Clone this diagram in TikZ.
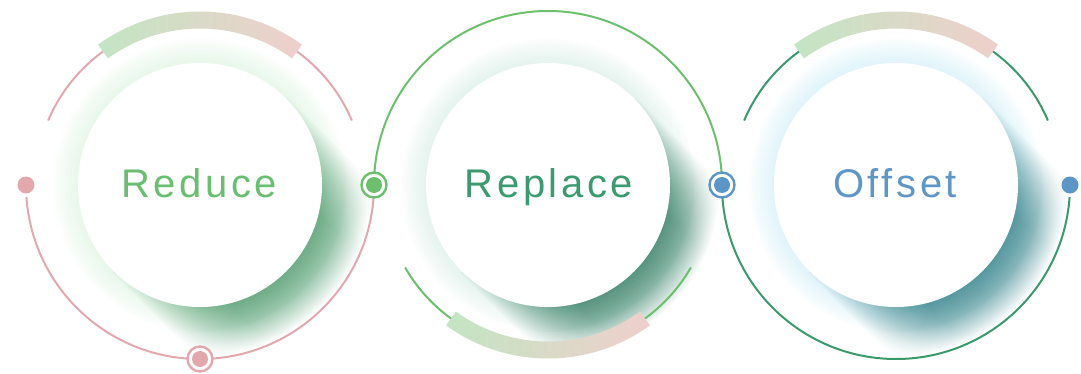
\documentclass[tikz,border=0pt]{standalone}
\usepackage{fontspec}
\setmainfont{Liberation Sans}
\usetikzlibrary{calc}
\definecolor{ringpink}{HTML}{E2A8AD}
\definecolor{ringgreen}{HTML}{6CBF6C}
\definecolor{ringdark}{HTML}{3A9A6A}
\definecolor{markblue}{HTML}{5B96C6}
\definecolor{txtone}{HTML}{6ABE72}
\definecolor{txttwo}{HTML}{3B9A6E}
\definecolor{txtthree}{HTML}{5E96C5}
\definecolor{bandg}{HTML}{C3E5C3}
\definecolor{bandp}{HTML}{EFCFCB}
\definecolor{shone}{HTML}{4E9C6E}
\definecolor{shtwo}{HTML}{2F7D62}
\definecolor{shthree}{HTML}{2F8189}
\definecolor{haone}{HTML}{CFEFD2}
\definecolor{hatwo}{HTML}{C9E6DA}
\definecolor{hathree}{HTML}{BFE8F4}
\pgfdeclareradialshading{shadeone}{\pgfpoint{0bp}{0bp}}{color(0bp)=(shone); color(17.7bp)=(shone); color(21.1bp)=(shone!75!white); color(23.5bp)=(shone!30!white); color(25bp)=(white); color(50bp)=(white)}
\pgfdeclareradialshading{shadetwo}{\pgfpoint{0bp}{0bp}}{color(0bp)=(shtwo); color(17.7bp)=(shtwo); color(21.1bp)=(shtwo!75!white); color(23.5bp)=(shtwo!30!white); color(25bp)=(white); color(50bp)=(white)}
\pgfdeclareradialshading{shadethree}{\pgfpoint{0bp}{0bp}}{color(0bp)=(shthree); color(17.7bp)=(shthree); color(21.1bp)=(shthree!75!white); color(23.5bp)=(shthree!30!white); color(25bp)=(white); color(50bp)=(white)}
\tikzset{
  ringline/.style={line width=2pt},
  whitecirc/.style={circle, fill=white, minimum size=244pt, inner sep=0pt},
  ringmark/.style={circle, draw=#1, line width=2.4pt, fill=white, minimum size=25pt, inner sep=0pt},
  dotmark/.style={circle, fill=#1, minimum size=16pt, inner sep=0pt},
  enddot/.style={circle, fill=#1, minimum size=17pt, inner sep=0pt},
  label/.style={font=\fontsize{40}{48}\selectfont\addfontfeatures{LetterSpace=9}, anchor=base, inner sep=0pt},
}
\begin{document}
\begin{tikzpicture}[x=1pt,y=1pt]
\useasboundingbox (0,0) rectangle (1081,373);
\coordinate (c1) at (200,188);
\coordinate (c2) at (548,188);
\coordinate (c3) at (896,188);
% soft halos
\foreach \c/\ha in {c1/haone, c2/hatwo, c3/hathree} {
  \foreach \k in {1,...,14}
    \fill[\ha, opacity=0.045] (\c) circle[radius=122+1.8*\k];
}
% long shadows towards the lower right, fading outwards
\foreach \c/\sh in {c1/shadeone, c2/shadetwo, c3/shadethree} {
  \foreach \w in {124,122,...,64} {
    \begin{scope}
      \clip[shift={(\c)}, rotate=-45] (0,-\w) rectangle (220,\w);
      \shade[shading=\sh, opacity=0.042] (\c) circle[radius=172];
    \end{scope}
  }
}
% white discs
\node[whitecirc] (w1) at (c1) {};
\node[whitecirc] (w2) at (c2) {};
\node[whitecirc] (w3) at (c3) {};
% rings
\draw[ringline, ringpink] ($(c1)+(184:174)$) arc[start angle=184, end angle=360, radius=174];
\draw[ringline, ringpink] ($(c1)+(23:165)$) arc[start angle=23, end angle=157, radius=165];
\draw[ringline, ringgreen] ($(c2)+(0:174)$) arc[start angle=0, end angle=180, radius=174];
\draw[ringline, ringgreen] ($(c2)+(210:165)$) arc[start angle=210, end angle=330, radius=165];
\draw[ringline, ringdark] ($(c3)+(180:174)$) arc[start angle=180, end angle=356, radius=174];
\draw[ringline, ringdark] ($(c3)+(23:165)$) arc[start angle=23, end angle=157, radius=165];
% gradient bands
\shade[left color=bandg, right color=bandp] ($(c1)+(54:156.5)$) arc[start angle=54, end angle=126, radius=156.5]
  -- ($(c1)+(126:173.5)$) arc[start angle=126, end angle=54, radius=173.5] -- cycle;
\shade[left color=bandg, right color=bandp] ($(c3)+(54:156.5)$) arc[start angle=54, end angle=126, radius=156.5]
  -- ($(c3)+(126:173.5)$) arc[start angle=126, end angle=54, radius=173.5] -- cycle;
\shade[left color=bandg, right color=bandp] ($(c2)+(234:156.5)$) arc[start angle=234, end angle=306, radius=156.5]
  -- ($(c2)+(306:173.5)$) arc[start angle=306, end angle=234, radius=173.5] -- cycle;
% markers
\node[enddot=ringpink] (d1) at ($(c1)+(180:174)$) {};
\node[ringmark=ringpink] (m1o) at ($(c1)+(270:174)$) {};
\node[dotmark=ringpink] (m1i) at (m1o) {};
\node[ringmark=ringgreen] (m2o) at ($(c2)+(180:174)$) {};
\node[dotmark=ringgreen] (m2i) at (m2o) {};
\node[ringmark=markblue] (m3o) at ($(c3)+(180:174)$) {};
\node[dotmark=markblue] (m3i) at (m3o) {};
\node[enddot=markblue] (d3) at ($(c3)+(0:174)$) {};
% labels
\node[label, text=txtone] (t1) at (199,176) {Reduce};
\node[label, text=txttwo] (t2) at (549,176) {Replace};
\node[label, text=txtthree] (t3) at (895,176) {Offset};
\end{tikzpicture}
\end{document}
